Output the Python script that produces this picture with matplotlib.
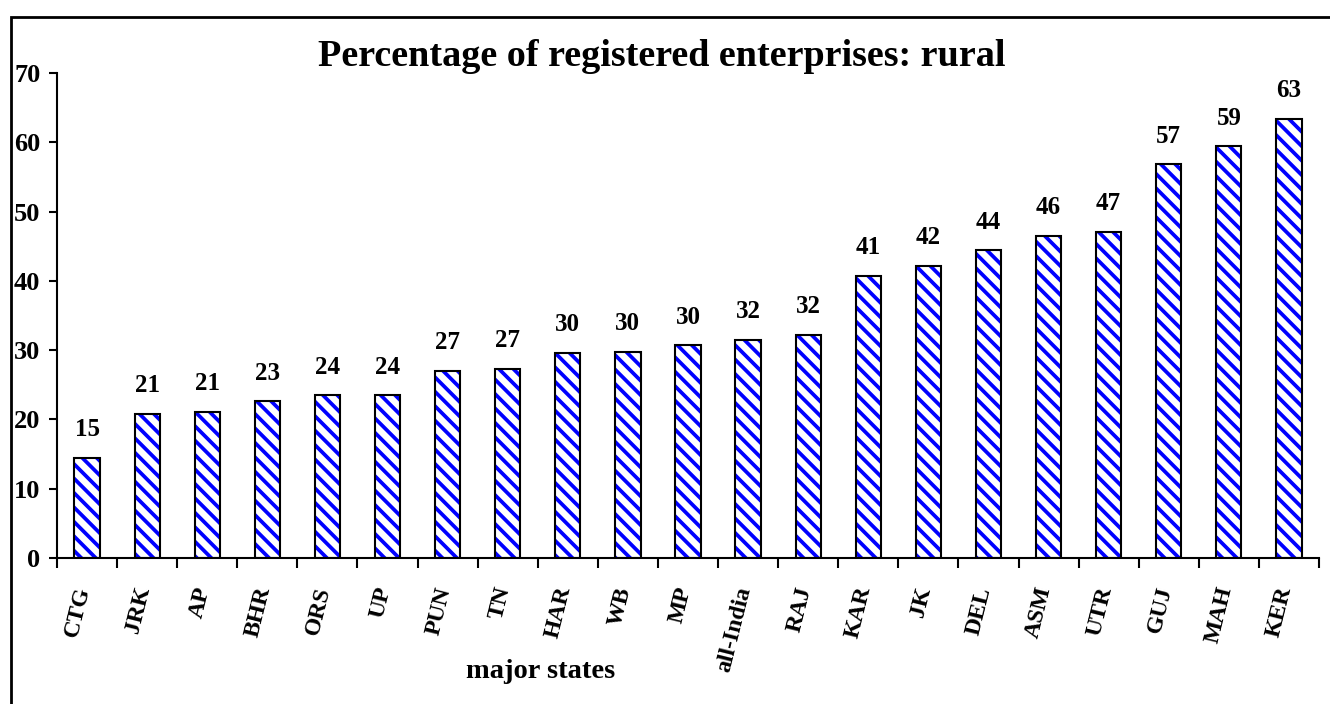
import matplotlib.pyplot as plt
from matplotlib.patches import Rectangle
import numpy as np

states = ['CTG', 'JRK', 'AP', 'BHR', 'ORS', 'UP', 'PUN', 'TN', 'HAR', 'WB', 'MP',
          'all-India', 'RAJ', 'KAR', 'JK', 'DEL', 'ASM', 'UTR', 'GUJ', 'MAH', 'KER']
pct = [14.5, 20.8, 21.1, 22.6, 23.5, 23.5, 27.0, 27.3, 29.6, 29.8, 30.7,
       31.5, 32.2, 40.7, 42.2, 44.4, 46.5, 47.1, 56.8, 59.4, 63.4]
shown = [15, 21, 21, 23, 24, 24, 27, 27, 30, 30, 30,
         32, 32, 41, 42, 44, 46, 47, 57, 59, 63]

W, H = 1330, 704
DPI = 130          # hatch spacing depends on dpi
k = 100 / DPI      # sizes below were picked for dpi 100

plt.rcParams['font.family'] = 'Liberation Serif'
plt.rcParams['font.weight'] = 'bold'
plt.rcParams['hatch.linewidth'] = 2.7 * k

fig = plt.figure(figsize=(W / DPI, H / DPI), dpi=DPI)
ax = fig.add_axes([57 / W, 1 - 558 / H, (1319 - 57) / W, (558 - 73) / H])

x = np.arange(len(states)) + 0.5
# blue stripes first, then the black outline on top
ax.bar(x, pct, width=0.42, facecolor='white', edgecolor='#0000ff', linewidth=0,
       hatch='\\\\\\')
ax.bar(x, pct, width=0.42, fill=False, edgecolor='black', linewidth=1.5 * k)

for xi, v, s in zip(x, pct, shown):
    ax.annotate(str(s), (xi, v), xytext=(0, 12 * k), textcoords='offset points',
                ha='center', va='bottom', fontsize=18 * k, fontweight='bold')

ax.set_xlim(0, len(states))
ax.set_ylim(0, 70)
ax.set_yticks(range(0, 71, 10))
ax.tick_params(axis='y', labelsize=19 * k, length=6 * k, width=1.5 * k, pad=6 * k)
ax.set_xticks(range(len(states) + 1))
ax.set_xticklabels([])
ax.tick_params(axis='x', length=7 * k, width=1.5 * k)
ax.set_xticks(x - 0.05, minor=True)
ax.set_xticklabels(states, minor=True, rotation=76, rotation_mode='anchor',
                   ha='right', va='center', fontsize=17 * k)
ax.tick_params(axis='x', which='minor', length=0, pad=21 * k)
for lab in ax.get_yticklabels() + ax.get_xticklabels(minor=True):
    lab.set_fontweight('bold')

ax.spines['top'].set_visible(False)
ax.spines['right'].set_visible(False)
ax.spines['left'].set_linewidth(1.5 * k)
ax.spines['bottom'].set_linewidth(1.5 * k)

fig.text(662 / W, 1 - 57 / H, 'Percentage of registered enterprises: rural',
         ha='center', va='center', fontsize=27.5 * k, fontweight='bold')
fig.text(541 / W, 1 - 671 / H, 'major states', ha='center', va='center',
         fontsize=20.5 * k, fontweight='bold')

fig.patches.append(Rectangle((11 / W, -0.1), 1.2, 1.1 - 17 / H, transform=fig.transFigure,
                             fill=False, edgecolor='black', linewidth=2 * k))

fig.savefig('out.png', dpi=DPI)
